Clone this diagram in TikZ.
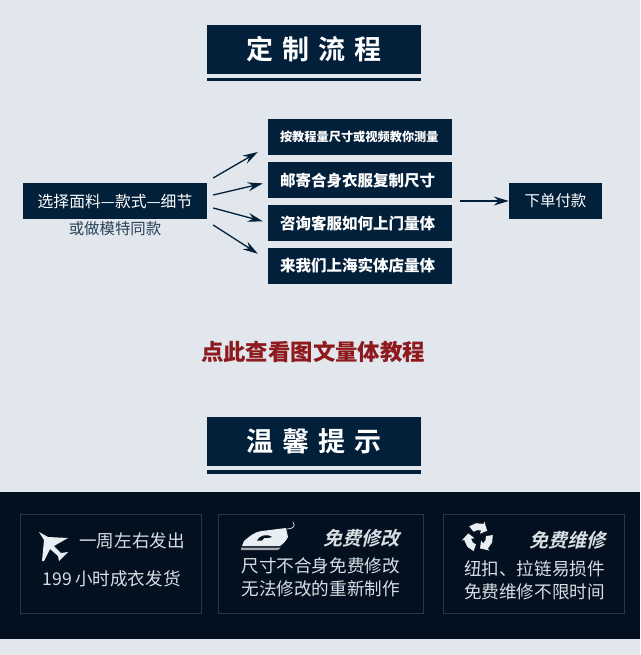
\documentclass[tikz,border=0pt]{standalone}
\usepackage{fontspec}
\setmainfont{Noto Sans CJK SC}
\newfontfamily\headfont[LetterSpace=34,BoldFont=*]{Noto Sans CJK SC Bold}
\newfontfamily\slantfont[FakeSlant=0.25]{Noto Sans CJK SC Bold}
\usetikzlibrary{arrows.meta,calc,positioning}
\definecolor{navy}{HTML}{03203A}
\definecolor{panel}{HTML}{02101F}
\definecolor{paper}{HTML}{E1E7ED}
\definecolor{frame}{HTML}{27364A}
\definecolor{wine}{HTML}{8E1A1E}
\definecolor{ink}{HTML}{D8DEE3}
\definecolor{iconfill}{HTML}{E9EEF2}

\begin{document}
\begin{tikzpicture}[
      x=1pt, y=-1pt,
      >={Stealth[length=15pt,width=9pt,inset=5pt]},
      every node/.style={font=\fontsize{15.4}{18}\selectfont, align=center},
      banner/.style={rectangle, fill=navy, text=white, inner sep=0pt,
            minimum width=214pt, minimum height=49pt,
            font=\fontsize{27}{30}\headfont},
      stage/.style={rectangle, fill=navy, text=white, inner sep=0pt,
            minimum height=36pt},
      choice/.style={stage, text width=160pt, inner xsep=12pt, align=left,
            font=\fontsize{15.5}{18}\selectfont\bfseries},
      note/.style={text=ink, inner sep=0pt, font=\fontsize{17.6}{20}\selectfont},
      slogan/.style={text=ink, inner sep=0pt, font=\fontsize{19}{22}\slantfont},
      card/.style={draw=frame, line width=0.8pt, inner sep=0pt},
      line/.style={->, navy, line width=1.3pt},
      icon/.style={fill=iconfill, draw=none}
]
\useasboundingbox (0,0) rectangle (640,655);
\fill[paper] (0,0) rectangle (640,655);
\fill[panel] (0,492) rectangle (640,639);

\node[banner] (flowtitle) at (314,49.5) {定制流程};
\node[banner] (tiptitle) at (314,441) {温馨提示};
\fill[navy] (flowtitle.south west)++(0,3.5) rectangle ([yshift=-7pt]flowtitle.south east);
\fill[navy] (tiptitle.south west)++(0,4.5) rectangle ([yshift=-8pt]tiptitle.south east);

\node[stage, minimum width=184pt, font=\fontsize{15.8}{18}\selectfont] (fabric) at (115,201) {选择面料—款式—细节};
\node[below=2pt of fabric, text=navy!85!white, inner sep=0pt] (model) {或做模特同款};

\node[choice, font=\fontsize{12.2}{16}\selectfont\bfseries] (video) at (360,137) {按教程量尺寸或视频教你测量};
\node[choice, below=7pt of video] (mail) {邮寄合身衣服复制尺寸};
\node[choice, below=6.5pt of mail] (service) {咨询客服如何上门量体};
\node[choice, below=6pt of service] (store) {来我们上海实体店量体};
\node[stage, minimum width=93pt] (order) at (555.5,201) {下单付款};

\coordinate (hub) at ([xshift=-49pt]order.west);
\draw[line] ([shift={(6pt,23pt)}]fabric.east) -- ([shift={(-10pt,-15pt)}]video.west);
\draw[line] ([shift={(6pt,6pt)}]fabric.east) -- ([shift={(-5pt,-3pt)}]mail.west);
\draw[line] ([shift={(6pt,-7pt)}]fabric.east) -- ([shift={(-5pt,2pt)}]service.west);
\draw[line] ([shift={(6pt,-24pt)}]fabric.east) -- ([shift={(-10pt,12pt)}]store.west);
\draw[line] (hub) -- (order.west);

\node[inner sep=0pt, text=wine, font=\fontsize{22.4}{26}\selectfont\bfseries] (guide) at (313,352) {点此查看图文量体教程};

\node[card, minimum width=181pt, minimum height=99pt] (shipcard) at (110.5,563.5) {};
\node[card, minimum width=205pt, minimum height=99pt] (repaircard) at (320.5,563.5) {};
\node[card, minimum width=181pt, minimum height=99pt] (fixcard) at (533.5,563.5) {};

\node[note, anchor=east] (week) at (185,541) {一周左右发出};
\node[note, anchor=east] (hours) at (181,579) {199\hspace{3pt}小时成衣发货};
\node[slogan, anchor=east] (altertitle) at (400,538) {免费修改};
\node[note, anchor=east] (altera) at (400,566) {尺寸不合身免费修改};
\node[note, anchor=east] (alterb) at (400,589) {无法修改的重新制作};
\node[slogan, anchor=east] (fixtitle) at (606,540) {免费维修};
\node[note, anchor=east] (fixa) at (605,569) {纽扣、拉链易损件};
\node[note, anchor=east] (fixb) at (605,592) {免费维修不限时间};

% plane
\fill[icon] (39,532) -- (48,537) -- (68,538) -- (54,546) -- (61,553) -- (68,552)
      -- (64,556) -- (59,561) -- (58,556) -- (50,549) -- (44,561) -- (42,561)
      -- (44,540) -- cycle;
% iron
\fill[icon] (242,546) -- (244,541) .. controls (250,536) and (254,532) .. (262,531)
      -- (286,528) -- (288,537) .. controls (286,541) and (283,544) .. (280,546) -- cycle;
\fill[iconfill!70!black] (241,547.5) -- (281,547.5) -- (278,550) -- (241,550) -- cycle;
\fill[panel] (257,540.5) .. controls (259,536) and (266,533) .. (272,537) -- (268,538)
      .. controls (265,537) and (263,538) .. (262,540.5) -- cycle;
\draw[ink!70, line width=0.7pt] (287,529) .. controls (293,529) and (296,526) .. (293,522);
% recycle
\begin{scope}[shift={(478.5,537.5)}]
\foreach \a in {-10,110,230}
  \fill[icon] (\a:7.5) -- (\a+30:7.5) -- (\a+60:7.5) -- (\a+60:4) -- (\a+92:11) -- (\a+60:17)
      -- (\a+60:14.5) -- (\a+30:14.5) -- (\a:14.5) -- cycle;
\end{scope}
\end{tikzpicture}
\end{document}
